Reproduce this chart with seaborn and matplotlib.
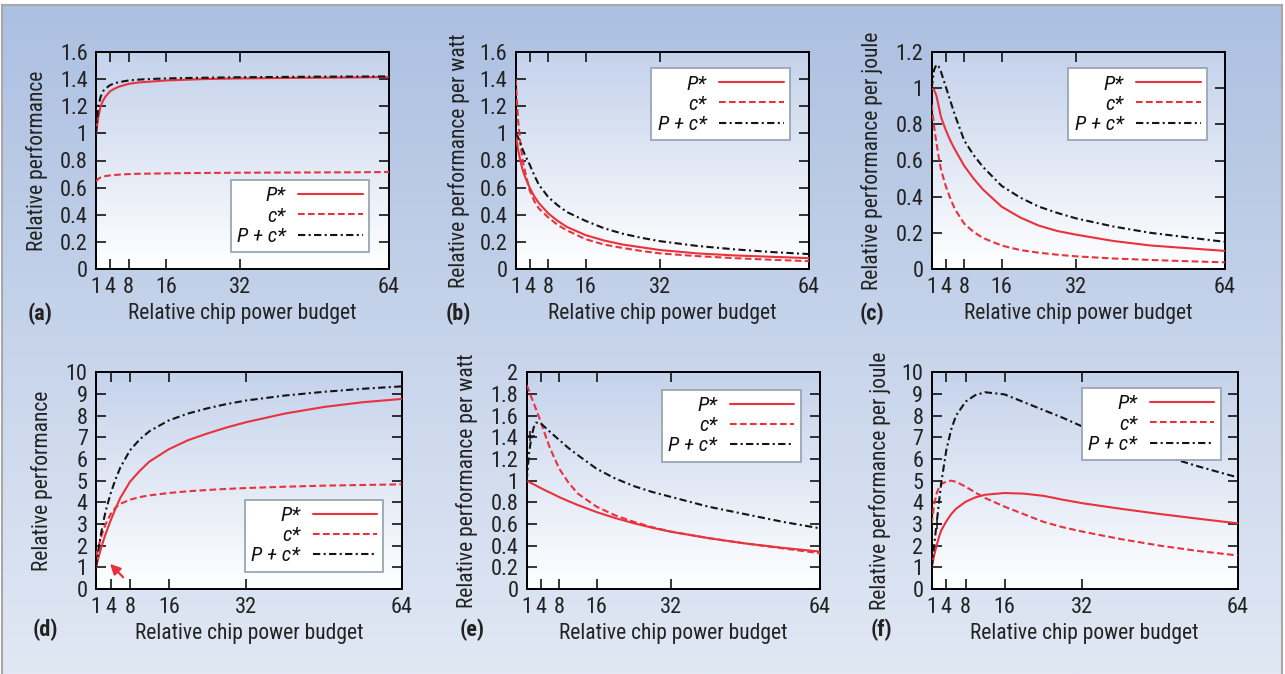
import numpy as np
import matplotlib
matplotlib.use('Agg')
import matplotlib.pyplot as plt
from matplotlib.colors import LinearSegmentedColormap
import seaborn as sns

# power budget samples (x)
budget = [1, 1.5, 2, 2.5, 3, 4, 5, 6, 8, 10, 12, 16, 20, 24, 28, 32, 40, 48, 56, 64]
x_ticks = [1, 4, 8, 16, 32, 64]
series_labels = ['P*', 'c*', 'P + c*']

# (a) relative performance
a_p = [1.0, 1.12, 1.2, 1.24, 1.27, 1.31, 1.33, 1.345, 1.365, 1.375, 1.38, 1.39, 1.395, 1.40, 1.403, 1.405, 1.408, 1.41, 1.412, 1.415]
a_c = [0.645, 0.665, 0.675, 0.68, 0.685, 0.69, 0.693, 0.696, 0.70, 0.702, 0.703, 0.705, 0.707, 0.708, 0.709, 0.71, 0.711, 0.712, 0.713, 0.715]
a_pc = [1.0, 1.2, 1.27, 1.31, 1.33, 1.355, 1.37, 1.378, 1.39, 1.396, 1.40, 1.405, 1.408, 1.41, 1.412, 1.414, 1.416, 1.418, 1.419, 1.42]

# (b) relative performance per watt
b_p = [1.0, 0.88, 0.80, 0.73, 0.68, 0.60, 0.535, 0.485, 0.41, 0.355, 0.31, 0.25, 0.21, 0.18, 0.16, 0.14, 0.115, 0.10, 0.09, 0.08]
b_c = [1.4, 1.1, 0.93, 0.80, 0.72, 0.58, 0.50, 0.445, 0.38, 0.325, 0.285, 0.22, 0.18, 0.155, 0.133, 0.115, 0.095, 0.08, 0.068, 0.058]
b_pc = [1.0, 0.97, 0.93, 0.88, 0.84, 0.77, 0.69, 0.62, 0.53, 0.47, 0.42, 0.355, 0.30, 0.26, 0.23, 0.205, 0.17, 0.145, 0.125, 0.11]

# (c) relative performance per joule
c_p = [1.0, 0.99, 0.96, 0.90, 0.84, 0.77, 0.71, 0.66, 0.57, 0.50, 0.44, 0.345, 0.285, 0.24, 0.21, 0.19, 0.155, 0.13, 0.115, 0.10]
c_c = [0.91, 0.79, 0.70, 0.62, 0.55, 0.46, 0.39, 0.33, 0.25, 0.205, 0.172, 0.13, 0.105, 0.09, 0.079, 0.07, 0.058, 0.05, 0.043, 0.037]
c_pc = [1.0, 1.10, 1.13, 1.12, 1.09, 1.01, 0.93, 0.85, 0.71, 0.63, 0.565, 0.46, 0.395, 0.345, 0.31, 0.28, 0.235, 0.20, 0.175, 0.15]

# (d) relative performance
d_p = [1.0, 1.45, 1.85, 2.22, 2.55, 3.15, 3.7, 4.2, 4.95, 5.45, 5.88, 6.45, 6.87, 7.18, 7.46, 7.7, 8.1, 8.4, 8.62, 8.77]
d_c = [1.5, 1.95, 2.35, 2.7, 3.0, 3.45, 3.75, 3.93, 4.12, 4.24, 4.32, 4.43, 4.51, 4.57, 4.62, 4.66, 4.72, 4.77, 4.8, 4.83]
d_pc = [1.0, 1.8, 2.5, 3.1, 3.6, 4.4, 5.05, 5.6, 6.4, 6.9, 7.28, 7.78, 8.1, 8.34, 8.54, 8.7, 8.93, 9.1, 9.24, 9.35]

# (e) relative performance per watt
e_p = [1.0, 0.988, 0.977, 0.966, 0.955, 0.932, 0.91, 0.89, 0.848, 0.81, 0.775, 0.71, 0.655, 0.607, 0.565, 0.528, 0.47, 0.42, 0.38, 0.345]
e_c = [1.88, 1.83, 1.77, 1.715, 1.66, 1.545, 1.42, 1.30, 1.11, 0.98, 0.88, 0.76, 0.68, 0.62, 0.57, 0.53, 0.47, 0.42, 0.375, 0.33]
e_pc = [1.0, 1.25, 1.40, 1.49, 1.535, 1.53, 1.49, 1.45, 1.375, 1.30, 1.235, 1.11, 1.02, 0.95, 0.895, 0.85, 0.76, 0.69, 0.62, 0.56]

# (f) relative performance per joule
f_p = [1.0, 1.55, 2.0, 2.4, 2.72, 3.12, 3.45, 3.7, 4.03, 4.23, 4.35, 4.43, 4.4, 4.3, 4.12, 3.96, 3.7, 3.46, 3.24, 3.03]
f_c = [3.0, 3.9, 4.4, 4.7, 4.85, 4.95, 5.0, 4.95, 4.72, 4.45, 4.2, 3.8, 3.45, 3.1, 2.85, 2.65, 2.3, 2.0, 1.75, 1.55]
f_pc = [1.0, 2.0, 3.0, 4.0, 4.95, 6.4, 7.35, 8.0, 8.65, 8.95, 9.08, 8.98, 8.62, 8.26, 7.9, 7.5, 6.85, 6.2, 5.65, 5.15]

# stray '+' point marks seen on the P + c* curves of (e) and (f)
e_plus = ([1.7], [1.41])
f_plus = ([2.0], [3.0])

# arrow in panel (d): tip, tail
d_arrow = [(3.5, 1.25), (7.0, 0.45)]

RED = '#e8323c'
BLACK = '#141414'
FONT = ['Roboto Condensed', 'Archivo Narrow', 'DejaVu Sans']

sns.set_theme(style='ticks')
plt.rcParams['font.family'] = FONT
plt.rcParams['axes.linewidth'] = 1.3

fig = plt.figure(figsize=(12.85, 6.74), dpi=100)
fig.patch.set_facecolor('white')

# page background
bg = fig.add_axes([2 / 1285, 0, 1280 / 1285, 669 / 674], zorder=-5)
bg_cmap = LinearSegmentedColormap.from_list('bg', ['#e1e8f4', '#acc0e1'])
bg.imshow(np.linspace(0, 1, 256).reshape(-1, 1), cmap=bg_cmap, aspect='auto', origin='lower', extent=(0, 1, 0, 1))
bg.set_xticks([])
bg.set_yticks([])
for s in ['top', 'left', 'right']:
    bg.spines[s].set_color('#a8a8a8')
    bg.spines[s].set_linewidth(1.5)
bg.spines['bottom'].set_visible(False)

ax_cmap = LinearSegmentedColormap.from_list('ax', ['#ffffff', '#c4d2eb'])

panels = [
    dict(tag='(a)', rect=[96, 52, 293, 217], ylabel='Relative performance', ylim=1.6, yticks=np.arange(0, 1.61, 0.2),
         data=[a_p, a_c, a_pc], leg=(0.932, 0.078), leg_loc='lower right', ylab_x=-0.165, tag_xy=(40, 314), plus=None),
    dict(tag='(b)', rect=[515.7, 52, 293.3, 217], ylabel='Relative performance per watt', ylim=1.6, yticks=np.arange(0, 1.61, 0.2),
         data=[b_p, b_c, b_pc], leg=(0.935, 0.925), leg_loc='upper right', ylab_x=-0.155, tag_xy=(458, 314), plus=None),
    dict(tag='(c)', rect=[931.7, 52, 293.3, 217], ylabel='Relative performance per joule', ylim=1.2, yticks=np.arange(0, 1.21, 0.2),
         data=[c_p, c_c, c_pc], leg=(0.938, 0.925), leg_loc='upper right', ylab_x=-0.165, tag_xy=(872, 314), plus=None),
    dict(tag='(d)', rect=[96, 372.3, 305.7, 216.7], ylabel='Relative performance', ylim=10, yticks=np.arange(0, 11, 1),
         data=[d_p, d_c, d_pc], leg=(0.94, 0.08), leg_loc='lower right', ylab_x=-0.14, tag_xy=(45, 630), plus=None),
    dict(tag='(e)', rect=[526.7, 372.3, 293.3, 216.7], ylabel='Relative performance per watt', ylim=2, yticks=np.arange(0, 2.01, 0.2),
         data=[e_p, e_c, e_pc], leg=(0.934, 0.92), leg_loc='upper right', ylab_x=-0.165, tag_xy=(472, 630), plus=e_plus),
    dict(tag='(f)', rect=[931.7, 372.3, 306, 216.7], ylabel='Relative performance per joule', ylim=10, yticks=np.arange(0, 11, 1),
         data=[f_p, f_c, f_pc], leg=(0.944, 0.927), leg_loc='upper right', ylab_x=-0.132, tag_xy=(881, 630), plus=f_plus),
]

styles = [
    dict(color=RED, linestyle='-'),
    dict(color=RED, linestyle=(0, (3.2, 1.6))),
    dict(color=BLACK, linestyle=(0, (3.5, 1.6, 1.0, 1.6))),
]

W, H = 1285, 674
for p in panels:
    l, t, w, h = p['rect']
    ax = fig.add_axes([l / W, (H - t - h) / H, w / W, h / H])
    ax.imshow(np.linspace(0, 1, 256).reshape(-1, 1), cmap=ax_cmap, aspect='auto', origin='lower',
              extent=(1, 64, 0, p['ylim']), zorder=0)
    for vals, lab, st in zip(p['data'], series_labels, styles):
        sns.lineplot(x=budget, y=vals, ax=ax, label=lab, lw=1.5, zorder=3, **st)
    if p['plus'] is not None:
        sns.scatterplot(x=p['plus'][0], y=p['plus'][1], ax=ax, marker='+', s=60, color=BLACK,
                        linewidth=1.1, zorder=4, legend=False)
    ax.set_xlim(1, 64)
    ax.set_ylim(0, p['ylim'])
    ax.set_xticks(x_ticks)
    ax.set_yticks(p['yticks'])
    ax.set_yticklabels(['%g' % round(v, 2) for v in p['yticks']])
    ax.tick_params(direction='in', length=7, width=1.1, top=True, right=True, labelsize=16,
                   colors='black', labelcolor='#222222', pad=6)
    ax.tick_params(axis='x', pad=6)
    for s in ax.spines.values():
        s.set_color('black')
        s.set_linewidth(1.4)
    ax.set_xlabel('Relative chip power budget', fontsize=15.5, color='#222222', labelpad=3)
    ax.set_ylabel(p['ylabel'], fontsize=15.5, color='#222222')
    ax.yaxis.set_label_coords(p['ylab_x'], 0.5)
    leg = ax.legend(loc=p['leg_loc'], bbox_to_anchor=p['leg'], borderaxespad=0, markerfirst=False,
                    fontsize=15, handlelength=3.1, handletextpad=0.6, labelspacing=0.06,
                    fancybox=False, framealpha=1, edgecolor='#9aa6b4', borderpad=0.3)
    leg.get_frame().set_linewidth(1.3)
    for txt in leg.get_texts():
        txt.set_fontstyle('italic')
        txt.set_color('#111111')
    try:
        leg._legend_handle_box.get_children()[0].align = 'right'
    except Exception:
        pass
    leg.set_zorder(5)
    fig.text(p['tag_xy'][0] / W, 1 - p['tag_xy'][1] / H, p['tag'], fontsize=16, fontweight='bold',
             color='#222222', ha='center', va='center')
    if p['tag'] == '(d)':
        ax.annotate('', xy=d_arrow[0], xytext=d_arrow[1],
                    arrowprops=dict(arrowstyle='-|>,head_length=0.5,head_width=0.25', color=RED, lw=1.6),
                    zorder=4)

fig.savefig('out.png', dpi=100)
